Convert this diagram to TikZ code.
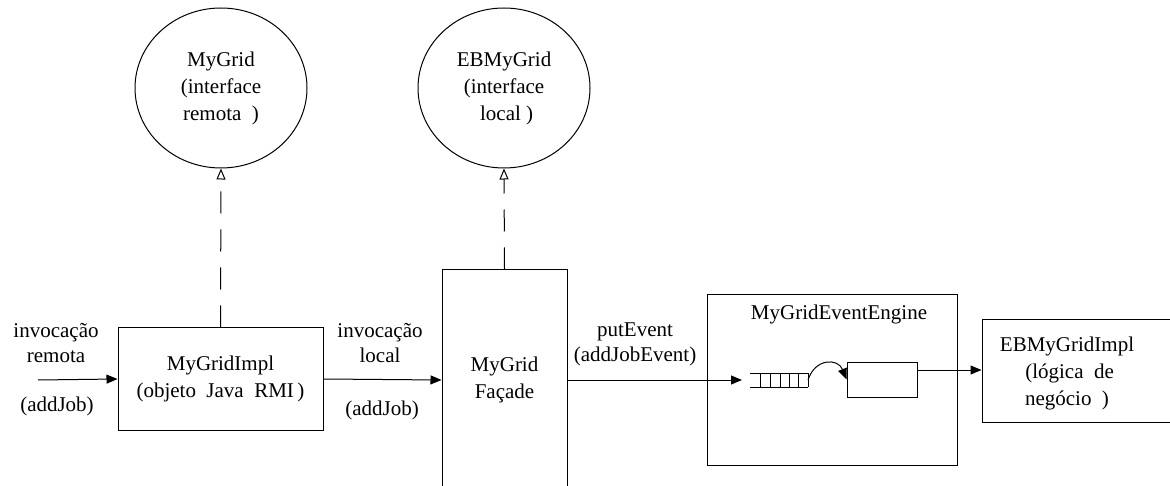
\documentclass[tikz,border=0pt]{standalone}
\usepackage{fontspec}
\setmainfont{Liberation Serif}
\usetikzlibrary{arrows.meta,shapes.geometric}
\tikzset{
  lw/.style={line width=1pt},
  boxnode/.style={draw, lw, inner sep=0pt, rectangle},
  iface/.style={draw, lw, ellipse, inner sep=0pt, minimum width=172pt, minimum height=160pt, align=center},
  txt/.style={align=center, inner sep=0pt, font=\fontsize{21}{27}\selectfont},
  flow/.style={lw, -{Triangle[length=11pt,width=9pt]}},
  realize/.style={lw, dash pattern=on 22pt off 16pt, -{Triangle[open,length=11pt,width=9pt,line width=1pt]}}
}
\begin{document}
\begin{tikzpicture}[x=1pt,y=-1pt]
\clip (0,0) rectangle (1170,486);
\fill[white] (0,0) rectangle (1170,486);
% interfaces
\node[iface, font=\fontsize{21}{27}\selectfont] (ifr) at (221,88) {MyGrid\\(interface\\remota\ \ )};
\node[iface, font=\fontsize{21}{27}\selectfont] (ifl) at (504,88) {EBMyGrid\\(interface\\\ local\ )};
% boxes
\node[boxnode, minimum width=205pt, minimum height=102pt, txt] (impl) at (220.5,379) {MyGridImpl\\(objeto\ \ Java\ \ RMI\,)};
\node[boxnode, minimum width=125pt, minimum height=220pt, txt] (facade) at (504.5,380) {MyGrid\\Façade};
\node[boxnode, minimum width=250pt, minimum height=170pt] (engine) at (832,380) {};
\node[txt] (enginetitle) at (839,314) {MyGridEventEngine};
\node[boxnode, minimum width=70pt, minimum height=35pt] (inner) at (882,379.5) {};
\node[boxnode, minimum width=208pt, minimum height=102pt] (eb) at (1086,371) {};
\node[txt] (ebtext) at (1067,373) {EBMyGridImpl\\\ (lógica\ \ de\\negócio\ \ )};
% labels
\node[txt, font=\fontsize{21}{25}\selectfont] (l1) at (56,343) {invocação\\remota};
\node[txt] (l1b) at (57,406) {(addJob)};
\node[txt, font=\fontsize{21}{25}\selectfont] (l2) at (380,343) {invocação\\local};
\node[txt] (l2b) at (382,410) {(addJob)};
\node[txt, font=\fontsize{21}{25}\selectfont] (l3) at (635,344) {putEvent\\(addJobEvent)};
% queue
\coordinate (qin) at (750,380);
\coordinate (qout) at (808,380);
\draw[lw] (750,373) -- (808,373) (750,387) -- (808,387);
\foreach \x in {760,770,780,789,798,808} \draw[lw] (\x,373) -- (\x,387);
% connectors
\coordinate (start) at (38,380);
\coordinate (qarrow) at (742,380);
\draw[flow] (start) -- (impl.west);
\draw[flow] (impl.east) -- (facade.west);
\draw[flow] (facade.east) -- (qarrow);
\draw[flow] (qout) .. controls (815,358) and (838,358) .. (inner.west);
\draw[flow] (inner.east |- 0,370) -- (eb.west |- 0,370);
\draw[realize] (impl.north) -- (ifr.south);
\draw[realize] (facade.north) -- (ifl.south);
\end{tikzpicture}
\end{document}
